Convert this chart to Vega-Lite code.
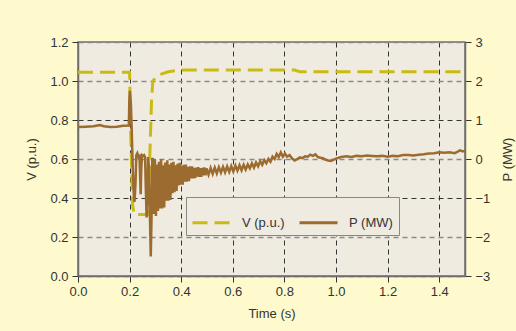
{
  "$schema": "https://vega.github.io/schema/vega-lite/v6.json",
  "width": 387,
  "height": 234,
  "autosize": {"type": "none"},
  "padding": {"left": 78, "top": 42, "right": 51, "bottom": 55},
  "background": "#fefacd",
  "config": {
    "view": {"fill": "#efebe1", "stroke": "#6e6e6e", "strokeWidth": 1.5},
    "font": "Liberation Sans",
    "axis": {
      "labelFont": "Liberation Sans", "labelFontSize": 13, "labelColor": "#333333",
      "titleFont": "Liberation Sans", "titleFontSize": 13, "titleFontWeight": "normal", "titleColor": "#333333",
      "tickColor": "#333333", "tickSize": 6, "domainColor": "#6e6e6e", "domainWidth": 1.5,
      "labelFlush": false, "labelOverlap": false
    }
  },
  "layer": [
    {
      "data": {"values": [
        {"t": 0, "v": 1.045}, {"t": 0.2, "v": 1.045}, {"t": 0.205, "v": 0.7}, {"t": 0.212, "v": 0.36},
        {"t": 0.218, "v": 0.315}, {"t": 0.272, "v": 0.315}, {"t": 0.278, "v": 0.6}, {"t": 0.285, "v": 0.9},
        {"t": 0.29, "v": 1.0}, {"t": 0.31, "v": 1.03}, {"t": 0.35, "v": 1.047}, {"t": 0.39, "v": 1.056},
        {"t": 0.8, "v": 1.057}, {"t": 0.84, "v": 1.056}, {"t": 0.86, "v": 1.047}, {"t": 1.5, "v": 1.047}
      ]},
      "mark": {"type": "line", "strokeWidth": 3, "strokeDash": [15, 7], "clip": true},
      "encoding": {
        "x": {
          "field": "t", "type": "quantitative",
          "scale": {"domain": [0, 1.5], "nice": false},
          "axis": {
            "title": "Time (s)", "values": [0, 0.2, 0.4, 0.6, 0.8, 1.0, 1.2, 1.4], "format": ".1f",
            "grid": true, "gridColor": "#333333", "gridDash": [5, 4], "gridWidth": 1,
            "labelPadding": 3, "titlePadding": 9
          }
        },
        "y": {
          "field": "v", "type": "quantitative",
          "scale": {"domain": [0, 1.2], "nice": false},
          "axis": {
            "title": "V (p.u.)", "orient": "left", "values": [0, 0.2, 0.4, 0.6, 0.8, 1.0, 1.2], "format": ".1f",
            "grid": true,
            "gridColor": {"condition": {"test": "datum.value == 0.4 || datum.value == 0.8", "value": "#333333"}, "value": "#8a8a8a"},
            "gridWidth": {"condition": {"test": "datum.value == 0.4 || datum.value == 0.8", "value": 1}, "value": 1.5},
            "gridDash": [5, 4],
            "labelPadding": 4, "titlePadding": 11
          }
        },
        "color": {
          "datum": "V (p.u.)", "type": "nominal",
          "scale": {"domain": ["V (p.u.)", "P (MW)"], "range": ["#c9bb12", "#9b6b2f"]},
          "legend": {
            "title": null, "orient": "none", "legendX": 108, "legendY": 155, "direction": "horizontal",
            "symbolType": "stroke", "symbolSize": 1444, "symbolStrokeWidth": 3,
            "labelFont": "Liberation Sans", "labelFontSize": 13, "labelColor": "#333333",
            "padding": 5, "strokeColor": "#888888", "fillColor": "#efebe1",
            "columnPadding": 8, "labelOffset": 10,
            "encode": {"symbols": {"update": {"strokeDash": {"signal": "datum.value === 'V (p.u.)' ? [15, 7] : [1, 0]"}}}}
          }
        }
      }
    },
    {
      "data": {"values": [
        {"t": 0, "p": 0.82}, {"t": 0.03, "p": 0.83}, {"t": 0.06, "p": 0.84}, {"t": 0.085, "p": 0.87},
        {"t": 0.1, "p": 0.84}, {"t": 0.125, "p": 0.82}, {"t": 0.15, "p": 0.83}, {"t": 0.175, "p": 0.85},
        {"t": 0.197, "p": 0.86}, {"t": 0.199, "p": 1.5}, {"t": 0.201, "p": 1.75}, {"t": 0.205, "p": 1.4},
        {"t": 0.208, "p": 0.8}, {"t": 0.212, "p": -0.2}, {"t": 0.216, "p": -0.9}, {"t": 0.219, "p": -1.1},
        {"t": 0.223, "p": -0.6}, {"t": 0.226, "p": 0.1}, {"t": 0.23, "p": 0.15}, {"t": 0.235, "p": 0.05},
        {"t": 0.238, "p": 0.12}, {"t": 0.241, "p": -0.5}, {"t": 0.243, "p": -0.9}, {"t": 0.245, "p": -0.3},
        {"t": 0.248, "p": 0.1}, {"t": 0.252, "p": 0.08}, {"t": 0.256, "p": 0.1}, {"t": 0.26, "p": 0.05},
        {"t": 0.263, "p": -0.8}, {"t": 0.266, "p": -1.5}, {"t": 0.269, "p": -1.0}, {"t": 0.272, "p": 0.05},
        {"t": 0.275, "p": -0.2}, {"t": 0.278, "p": -1.2}, {"t": 0.282, "p": -2.5}, {"t": 0.285, "p": -1.5},
        {"t": 0.288, "p": 0.0},
        {"t": 0.290, "p": 0.0}, {"t": 0.294, "p": -1.41}, {"t": 0.298, "p": 0.0}, {"t": 0.302, "p": -1.46},
        {"t": 0.306, "p": -0.14}, {"t": 0.310, "p": -1.33}, {"t": 0.314, "p": -0.07}, {"t": 0.318, "p": -1.27},
        {"t": 0.322, "p": 0.0}, {"t": 0.326, "p": -1.27}, {"t": 0.330, "p": -0.16}, {"t": 0.334, "p": -1.24},
        {"t": 0.338, "p": -0.09}, {"t": 0.342, "p": -1.07}, {"t": 0.346, "p": -0.035}, {"t": 0.350, "p": -1.07},
        {"t": 0.354, "p": -0.14}, {"t": 0.358, "p": -1.05}, {"t": 0.362, "p": -0.10}, {"t": 0.366, "p": -0.88},
        {"t": 0.370, "p": -0.07}, {"t": 0.374, "p": -0.85}, {"t": 0.378, "p": -0.16}, {"t": 0.382, "p": -0.82},
        {"t": 0.386, "p": -0.12}, {"t": 0.390, "p": -0.68}, {"t": 0.394, "p": -0.10}, {"t": 0.398, "p": -0.66},
        {"t": 0.402, "p": -0.17}, {"t": 0.406, "p": -0.66}, {"t": 0.410, "p": -0.15}, {"t": 0.414, "p": -0.58},
        {"t": 0.418, "p": -0.14}, {"t": 0.422, "p": -0.58}, {"t": 0.426, "p": -0.20}, {"t": 0.430, "p": -0.57},
        {"t": 0.434, "p": -0.19}, {"t": 0.438, "p": -0.50}, {"t": 0.442, "p": -0.19}, {"t": 0.446, "p": -0.50},
        {"t": 0.450, "p": -0.23}, {"t": 0.454, "p": -0.49}, {"t": 0.458, "p": -0.22}, {"t": 0.462, "p": -0.45},
        {"t": 0.466, "p": -0.21}, {"t": 0.470, "p": -0.455}, {"t": 0.474, "p": -0.235}, {"t": 0.478, "p": -0.455},
        {"t": 0.482, "p": -0.225}, {"t": 0.486, "p": -0.42}, {"t": 0.490, "p": -0.216}, {"t": 0.494, "p": -0.42},
        {"t": 0.498, "p": -0.24},
        {"t": 0.506, "p": -0.40}, {"t": 0.514, "p": -0.23}, {"t": 0.522, "p": -0.38}, {"t": 0.530, "p": -0.22},
        {"t": 0.538, "p": -0.37}, {"t": 0.546, "p": -0.21}, {"t": 0.554, "p": -0.35}, {"t": 0.562, "p": -0.20},
        {"t": 0.570, "p": -0.34}, {"t": 0.578, "p": -0.19}, {"t": 0.586, "p": -0.33}, {"t": 0.594, "p": -0.18},
        {"t": 0.602, "p": -0.32}, {"t": 0.610, "p": -0.17}, {"t": 0.618, "p": -0.30}, {"t": 0.626, "p": -0.16},
        {"t": 0.634, "p": -0.29}, {"t": 0.642, "p": -0.15}, {"t": 0.650, "p": -0.27}, {"t": 0.658, "p": -0.14},
        {"t": 0.666, "p": -0.24}, {"t": 0.674, "p": -0.11}, {"t": 0.682, "p": -0.22}, {"t": 0.690, "p": -0.09},
        {"t": 0.698, "p": -0.19}, {"t": 0.706, "p": -0.06}, {"t": 0.714, "p": -0.15}, {"t": 0.722, "p": -0.03},
        {"t": 0.730, "p": -0.11}, {"t": 0.738, "p": 0.0}, {"t": 0.746, "p": -0.07}, {"t": 0.754, "p": 0.06},
        {"t": 0.762, "p": 0.0}, {"t": 0.770, "p": 0.13}, {"t": 0.778, "p": 0.05}, {"t": 0.786, "p": 0.17},
        {"t": 0.794, "p": 0.06}, {"t": 0.802, "p": 0.14}, {"t": 0.81, "p": 0.06}, {"t": 0.82, "p": 0.1},
        {"t": 0.83, "p": 0.01}, {"t": 0.84, "p": -0.04}, {"t": 0.85, "p": 0.0}, {"t": 0.86, "p": 0.04},
        {"t": 0.87, "p": 0.02}, {"t": 0.88, "p": 0.07}, {"t": 0.89, "p": 0.06}, {"t": 0.90, "p": 0.11},
        {"t": 0.91, "p": 0.08}, {"t": 0.92, "p": 0.12}, {"t": 0.93, "p": 0.05}, {"t": 0.94, "p": 0.03},
        {"t": 0.95, "p": 0.02}, {"t": 0.96, "p": -0.02}, {"t": 0.97, "p": -0.04}, {"t": 0.98, "p": -0.05},
        {"t": 0.99, "p": -0.02}, {"t": 1.00, "p": 0.01}, {"t": 1.02, "p": 0.05}, {"t": 1.04, "p": 0.07},
        {"t": 1.06, "p": 0.05}, {"t": 1.08, "p": 0.08}, {"t": 1.10, "p": 0.07}, {"t": 1.12, "p": 0.09},
        {"t": 1.14, "p": 0.08}, {"t": 1.16, "p": 0.07}, {"t": 1.18, "p": 0.08}, {"t": 1.20, "p": 0.06},
        {"t": 1.22, "p": 0.08}, {"t": 1.24, "p": 0.07}, {"t": 1.26, "p": 0.1}, {"t": 1.28, "p": 0.1},
        {"t": 1.30, "p": 0.09}, {"t": 1.32, "p": 0.11}, {"t": 1.34, "p": 0.12}, {"t": 1.36, "p": 0.14},
        {"t": 1.38, "p": 0.15}, {"t": 1.40, "p": 0.17}, {"t": 1.42, "p": 0.16}, {"t": 1.44, "p": 0.17},
        {"t": 1.46, "p": 0.15}, {"t": 1.47, "p": 0.18}, {"t": 1.48, "p": 0.22}, {"t": 1.49, "p": 0.2},
        {"t": 1.50, "p": 0.2}
      ]},
      "mark": {"type": "line", "strokeWidth": 2.5, "clip": true},
      "encoding": {
        "x": {"field": "t", "type": "quantitative", "scale": {"domain": [0, 1.5], "nice": false}},
        "y": {
          "field": "p", "type": "quantitative",
          "scale": {"domain": [-3, 3], "nice": false},
          "axis": {
            "title": "P (MW)", "orient": "right", "values": [-3, -2, -1, 0, 1, 2, 3], "grid": false,
            "labelPadding": 4, "titleAngle": 270, "titleBaseline": "top", "titlePadding": 12
          }
        },
        "color": {"datum": "P (MW)", "type": "nominal"}
      }
    }
  ],
  "resolve": {"scale": {"y": "independent"}}
}
